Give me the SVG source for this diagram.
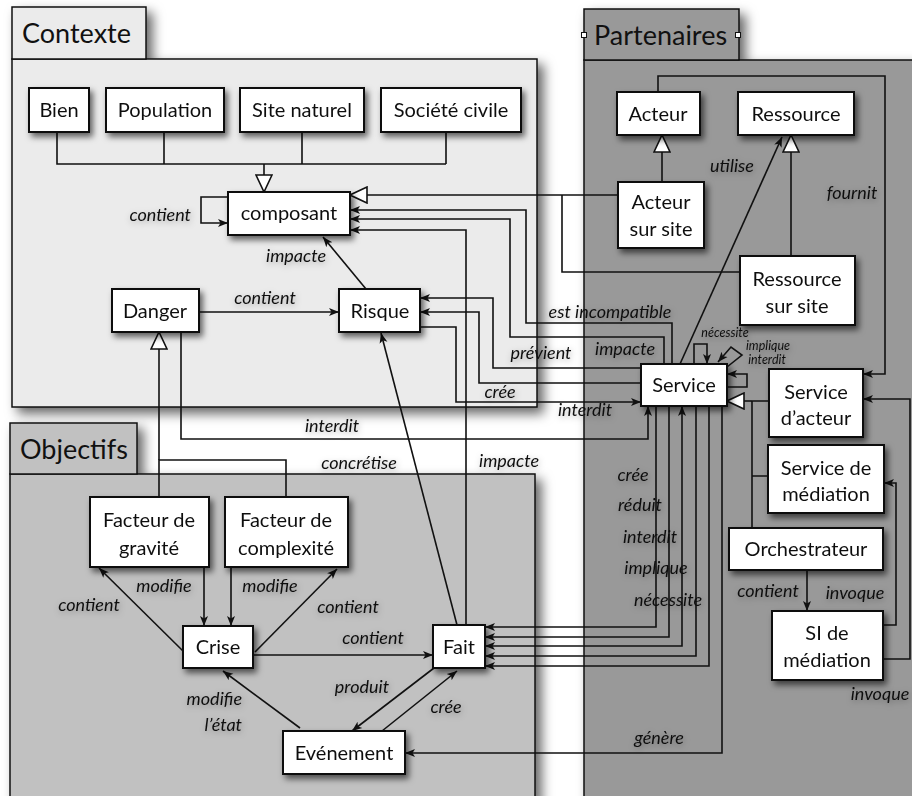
<svg xmlns="http://www.w3.org/2000/svg" width="912" height="796" viewBox="0 0 912 796">
<defs>
<style>
.pn{stroke:#111;stroke-width:1.5}
.nd rect{fill:#fff;stroke:#111;stroke-width:2}
.nd text{font-family:Lato,"Noto Sans",sans-serif;font-size:20px;fill:#111;text-anchor:middle}
.tt{font-family:Lato,"Noto Sans",sans-serif;font-size:27px;fill:#111}
.ln{fill:none;stroke:#111;stroke-width:1.6}
.lb{font-family:Lato,"Noto Sans",sans-serif;font-style:italic;font-size:18px;fill:#111}
.sm{font-size:12.5px}
</style>
<filter id="ps" x="-10%" y="-10%" width="130%" height="130%"><feDropShadow dx="6" dy="6" stdDeviation="6" flood-color="#000" flood-opacity="0.6"/></filter>
<filter id="ns" x="-20%" y="-20%" width="150%" height="160%"><feDropShadow dx="3" dy="4" stdDeviation="3" flood-color="#000" flood-opacity="0.6"/></filter>
<filter id="ts" x="-20%" y="-40%" width="140%" height="200%"><feDropShadow dx="1" dy="2" stdDeviation="3" flood-color="#000" flood-opacity="0.3"/></filter>
<marker id="a" viewBox="0 0 10 10" refX="10" refY="5" markerWidth="10" markerHeight="10" markerUnits="userSpaceOnUse" orient="auto-start-reverse"><path d="M0,1 L10,5 L0,9 L2.5,5 z" fill="#111"/></marker>
<marker id="t" viewBox="0 0 18 18" refX="18" refY="9" markerWidth="18" markerHeight="18" markerUnits="userSpaceOnUse" orient="auto"><path d="M1,1 L18,9 L1,17 z" fill="#fff" stroke="#111" stroke-width="1.6"/></marker>
</defs>
<rect width="912" height="796" fill="#fff"/>

<g id="panel-partenaires" filter="url(#ps)">
<rect class="pn" x="584" y="60" width="340" height="750" fill="#999"/>
<rect class="pn" x="584" y="9" width="155" height="51" fill="#999"/>
</g>
<g id="panel-contexte" filter="url(#ps)">
<rect class="pn" x="12" y="59" width="525" height="348" fill="#ebebeb"/>
<rect class="pn" x="12" y="7" width="134" height="52" fill="#ebebeb"/>
</g>
<g id="panel-objectifs" filter="url(#ps)">
<rect class="pn" x="10" y="474" width="525" height="340" fill="#c1c1c1"/>
<rect class="pn" x="10" y="423" width="127" height="51" fill="#c1c1c1"/>
</g>
<text class="tt" x="22" y="43">Contexte</text>
<text class="tt" x="594" y="45">Partenaires</text>
<text class="tt" x="20" y="459">Objectifs</text>
<rect x="581.5" y="32.5" width="5" height="5" fill="#fff" stroke="#111" stroke-width="1"/>
<rect x="735.5" y="32.5" width="5" height="5" fill="#fff" stroke="#111" stroke-width="1"/>

<g id="connectors">
<path class="ln" d="M57,132 V164 H446 M164,132 V164 M302,132 V164 M446,132 V164"/>
<path class="ln" d="M264,164 V192" marker-end="url(#t)"/>
<path class="ln" d="M228,197 H201 V223 H228" marker-end="url(#a)"/>
<path class="ln" d="M199,312 H339" marker-end="url(#a)"/>
<path class="ln" d="M366,289 L323,237" marker-end="url(#a)"/>
<path class="ln" d="M159,497 V460 H286 V497"/>
<path class="ln" d="M159,460 V332" marker-end="url(#t)"/>
<path class="ln" d="M181,332 V439 H648 V406" marker-end="url(#a)"/>
<path class="ln" d="M618,195 H350" marker-end="url(#t)"/>
<path class="ln" d="M740,272 H562 V195"/>
<path class="ln" d="M672,364 V323 H526 V210 H350" marker-end="url(#a)"/>
<path class="ln" d="M664,364 V337 H510 V219 H350" marker-end="url(#a)"/>
<path class="ln" d="M466,625 V230 H350" marker-end="url(#a)"/>
<path class="ln" d="M641,368 H493 V298 H420" marker-end="url(#a)"/>
<path class="ln" d="M641,383 H479 V312 H420" marker-end="url(#a)"/>
<path class="ln" d="M420,327 H456 V402 H641" marker-end="url(#a)"/>
<path class="ln" d="M457,625 L381,333" marker-end="url(#a)"/>
<path class="ln" d="M680,364 L782,137" marker-end="url(#a)"/>
<path class="ln" d="M694,364 V344 H707 V364" marker-end="url(#a)"/>
<path class="ln" d="M727,367 L742,355 L731,347 L718,362" marker-end="url(#a)"/>
<path class="ln" d="M727,387 H747 V374 H727" marker-end="url(#a)"/>
<path class="ln" d="M662,182 V135" marker-end="url(#t)"/>
<path class="ln" d="M791,256 V135" marker-end="url(#t)"/>
<path class="ln" d="M752,401 H727" marker-end="url(#t)"/>
<path class="ln" d="M769,401 H752 M752,527 V401 M768,476 H752"/>
<path class="ln" d="M658,92 V76 H885 V374 H863" marker-end="url(#a)"/>
<path class="ln" d="M807,570 V611" marker-end="url(#a)"/>
<path class="ln" d="M883,625 H896 V483 H884" marker-end="url(#a)"/>
<path class="ln" d="M883,659 H910 V399 H863" marker-end="url(#a)"/>
<path class="ln" d="M656,406 V627 H485" marker-end="url(#a)"/>
<path class="ln" d="M669,406 V637 H485" marker-end="url(#a)"/>
<path class="ln" d="M682,406 V646 H485" marker-start="url(#a)" marker-end="url(#a)"/>
<path class="ln" d="M696,406 V656 H485" marker-end="url(#a)"/>
<path class="ln" d="M709,406 V666 H485" marker-end="url(#a)"/>
<path class="ln" d="M722,406 V753 H405" marker-end="url(#a)"/>
<path class="ln" d="M204,567 V626" marker-end="url(#a)"/>
<path class="ln" d="M231,567 V626" marker-end="url(#a)"/>
<path class="ln" d="M183,651 L99,568" marker-end="url(#a)"/>
<path class="ln" d="M255,652 L337,569" marker-end="url(#a)"/>
<path class="ln" d="M253,655 H433" marker-end="url(#a)"/>
<path class="ln" d="M300,728 L223,671" marker-end="url(#a)"/>
<path class="ln" d="M434,668 L352,731" marker-end="url(#a)"/>
<path class="ln" d="M382,731 L457,671" marker-end="url(#a)"/>
</g>

<g id="labels" filter="url(#ts)">
<text class="lb" x="191" y="221" text-anchor="end">contient</text>
<text class="lb" x="296" y="262" text-anchor="middle">impacte</text>
<text class="lb" x="265" y="304" text-anchor="middle">contient</text>
<text class="lb" x="610" y="318" text-anchor="middle">est incompatible</text>
<text class="lb" x="541" y="359" text-anchor="middle">prévient</text>
<text class="lb" x="625" y="355" text-anchor="middle">impacte</text>
<text class="lb" x="500" y="398" text-anchor="middle">crée</text>
<text class="lb" x="585" y="416" text-anchor="middle">interdit</text>
<text class="lb" x="332" y="432" text-anchor="middle">interdit</text>
<text class="lb" x="359" y="469" text-anchor="middle">concrétise</text>
<text class="lb" x="509" y="467" text-anchor="middle">impacte</text>
<text class="lb" x="732" y="172" text-anchor="middle">utilise</text>
<text class="lb" x="852" y="199" text-anchor="middle">fournit</text>
<text class="lb sm" x="725" y="337" text-anchor="middle">nécessite</text>
<text class="lb sm" x="768" y="350" text-anchor="middle">implique</text>
<text class="lb sm" x="767" y="364" text-anchor="middle">interdit</text>
<text class="lb" x="633" y="481" text-anchor="middle">crée</text>
<text class="lb" x="640" y="511" text-anchor="middle">réduit</text>
<text class="lb" x="650" y="543" text-anchor="middle">interdit</text>
<text class="lb" x="656" y="574" text-anchor="middle">implique</text>
<text class="lb" x="668" y="606" text-anchor="middle">nécessite</text>
<text class="lb" x="768" y="597" text-anchor="middle">contient</text>
<text class="lb" x="855" y="599" text-anchor="middle">invoque</text>
<text class="lb" x="880" y="700" text-anchor="middle">invoque</text>
<text class="lb" x="659" y="744" text-anchor="middle">génère</text>
<text class="lb" x="164" y="592" text-anchor="middle">modifie</text>
<text class="lb" x="270" y="592" text-anchor="middle">modifie</text>
<text class="lb" x="89" y="611" text-anchor="middle">contient</text>
<text class="lb" x="348" y="613" text-anchor="middle">contient</text>
<text class="lb" x="373" y="644" text-anchor="middle">contient</text>
<text class="lb" x="242" y="705" text-anchor="end">modifie</text>
<text class="lb" x="242" y="731" text-anchor="end">l’état</text>
<text class="lb" x="362" y="693" text-anchor="middle">produit</text>
<text class="lb" x="446" y="713" text-anchor="middle">crée</text>
</g>

<g id="bien" class="nd" filter="url(#ns)"><rect x="29" y="88" width="60" height="44"/><text x="59" y="117">Bien</text></g>
<g id="population" class="nd" filter="url(#ns)"><rect x="106" y="88" width="118" height="44"/><text x="165" y="117">Population</text></g>
<g id="site-naturel" class="nd" filter="url(#ns)"><rect x="240" y="88" width="124" height="44"/><text x="302" y="117">Site naturel</text></g>
<g id="societe-civile" class="nd" filter="url(#ns)"><rect x="381" y="88" width="140" height="44"/><text x="451" y="117">Société civile</text></g>
<g id="composant" class="nd" filter="url(#ns)"><rect x="228" y="192" width="122" height="43"/><text x="289" y="220">composant</text></g>
<g id="danger" class="nd" filter="url(#ns)"><rect x="112" y="289" width="87" height="43"/><text x="155" y="318">Danger</text></g>
<g id="risque" class="nd" filter="url(#ns)"><rect x="339" y="289" width="81" height="43"/><text x="380" y="318">Risque</text></g>
<g id="acteur" class="nd" filter="url(#ns)"><rect x="617" y="92" width="83" height="43"/><text x="658" y="121">Acteur</text></g>
<g id="ressource" class="nd" filter="url(#ns)"><rect x="738" y="92" width="116" height="43"/><text x="796" y="121">Ressource</text></g>
<g id="acteur-sur-site" class="nd" filter="url(#ns)"><rect x="618" y="182" width="86" height="66"/><text x="661" y="209">Acteur</text><text x="661" y="236">sur site</text></g>
<g id="ressource-sur-site" class="nd" filter="url(#ns)"><rect x="740" y="256" width="115" height="69"/><text x="797" y="286">Ressource</text><text x="797" y="313">sur site</text></g>
<g id="service" class="nd" filter="url(#ns)"><rect x="641" y="364" width="86" height="42"/><text x="684" y="392">Service</text></g>
<g id="service-acteur" class="nd" filter="url(#ns)"><rect x="769" y="369" width="94" height="68"/><text x="816" y="399">Service</text><text x="816" y="425">d’acteur</text></g>
<g id="service-mediation" class="nd" filter="url(#ns)"><rect x="768" y="445" width="116" height="68"/><text x="826" y="475">Service de</text><text x="826" y="501">médiation</text></g>
<g id="orchestrateur" class="nd" filter="url(#ns)"><rect x="729" y="528" width="154" height="42"/><text x="806" y="556">Orchestrateur</text></g>
<g id="si-mediation" class="nd" filter="url(#ns)"><rect x="772" y="611" width="111" height="69"/><text x="827" y="640">SI de</text><text x="827" y="667">médiation</text></g>
<g id="facteur-gravite" class="nd" filter="url(#ns)"><rect x="90" y="497" width="119" height="70"/><text x="149" y="527">Facteur de</text><text x="149" y="555">gravité</text></g>
<g id="facteur-complexite" class="nd" filter="url(#ns)"><rect x="225" y="497" width="123" height="70"/><text x="286" y="527">Facteur de</text><text x="286" y="555">complexité</text></g>
<g id="crise" class="nd" filter="url(#ns)"><rect x="183" y="626" width="70" height="42"/><text x="218" y="654">Crise</text></g>
<g id="fait" class="nd" filter="url(#ns)"><rect x="433" y="625" width="52" height="43"/><text x="459" y="654">Fait</text></g>
<g id="evenement" class="nd" filter="url(#ns)"><rect x="283" y="731" width="122" height="43"/><text x="344" y="760">Evénement</text></g>
</svg>
